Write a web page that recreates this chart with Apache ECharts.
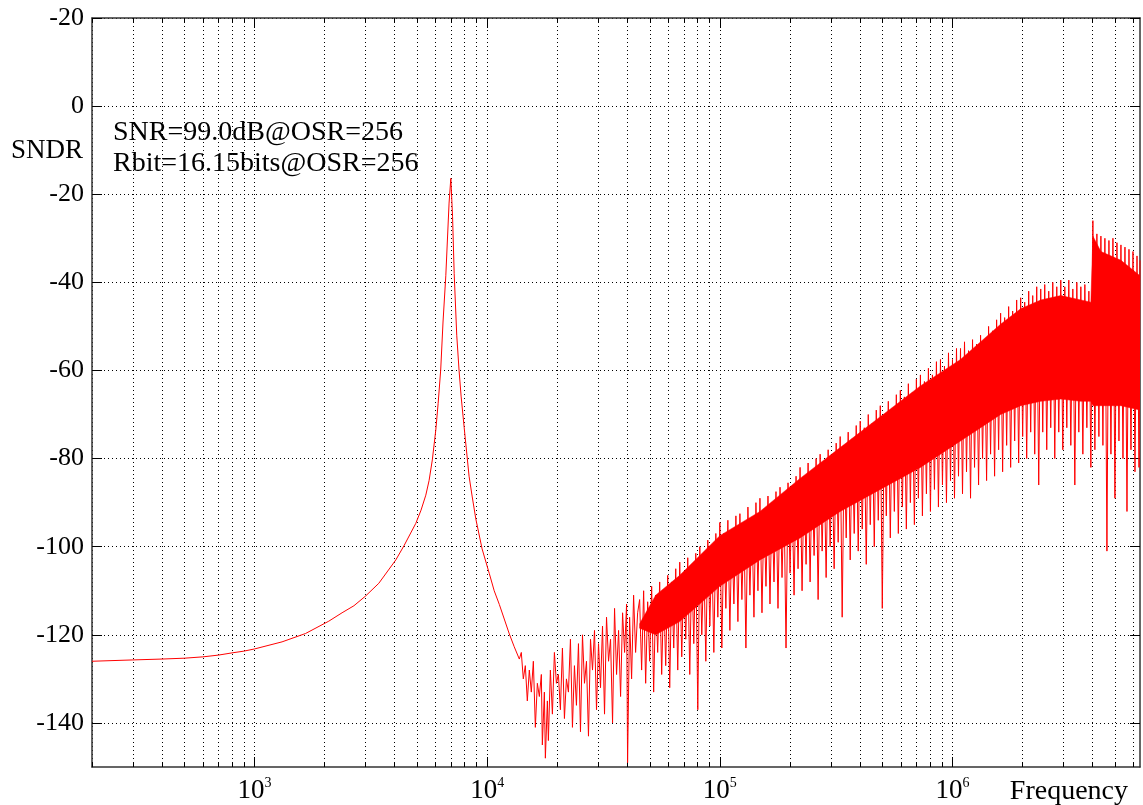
<!DOCTYPE html>
<html><head><meta charset="utf-8">
<script src="https://cdn.jsdelivr.net/npm/echarts@6/dist/echarts.min.js"></script>
<style>html,body{margin:0;padding:0;background:#fff}#c{width:1143px;height:805px}</style>
</head><body><div id="c"></div>
<script>
// ---- axis ranges and ticks ----
const X_MIN_HZ = 200, X_MAX_HZ = 6.4e6;
const Y_MIN = -150, Y_MAX = 20;
const yTickValues = [-140, -120, -100, -80, -60, -40, -20, 0, 20];
const yTickLabels = ['-140', '-120', '-100', '-80', '-60', '-40', '-20', '0', '-20'];
const xMajorExponents = [3, 4, 5, 6];
const xGridHz = [200,300,400,500,600,700,800,900,
  1000,2000,3000,4000,5000,6000,7000,8000,9000,
  10000,20000,30000,40000,50000,60000,70000,80000,90000,
  100000,200000,300000,400000,500000,600000,700000,800000,900000,
  1000000,2000000,3000000,4000000,5000000,6000000];

// ---- data: [log10(frequency in Hz), SNDR dB] ----
const cleanCurve = [
  [2.301,-126.0],[2.477,-125.7],[2.602,-125.5],[2.699,-125.3],[2.778,-125.0],[2.845,-124.6],
  [2.903,-124.1],[2.954,-123.7],[3.0,-123.2],[3.118,-121.6],[3.219,-119.7],[3.319,-116.9],
  [3.376,-115.0],[3.427,-113.4],[3.477,-111.2],[3.534,-108.3],[3.607,-103.0],[3.642,-99.8],
  [3.693,-94.7],[3.7155,-91.7],[3.736,-88.3],[3.750,-85.0],[3.764,-80.3],[3.779,-73.5],
  [3.789,-67.5],[3.800,-59.9],[3.810,-49],[3.822,-38.5],[3.836,-22],[3.8435,-16.4],
  [3.851,-25],[3.858,-38],[3.869,-52],[3.879,-60],[3.888,-66],[3.901,-73],[3.922,-84],
  [3.935,-88.5],[3.951,-93.7],[3.978,-100.5],[4.009,-106.1],[4.030,-110],[4.052,-113.1],
  [4.095,-119.8],[4.116,-122.7],[4.138,-125.5]
];
const noiseSparse = [
  [4.1465,-124],[4.1551,-130],[4.1638,-127],[4.1724,-135],[4.1810,-128],[4.1896,-133],
  [4.1983,-126],[4.2069,-141],[4.2155,-131],[4.2241,-134],[4.2327,-129],[4.2370,-145],
  [4.2457,-133],[4.2500,-148],[4.2586,-135],[4.2629,-144],[4.2715,-128],[4.2802,-138],
  [4.2888,-124],[4.2974,-131],[4.3060,-129],[4.3146,-137],[4.3233,-123],[4.3319,-139],
  [4.3405,-130],[4.3491,-133],[4.3578,-121],[4.3664,-141],[4.3750,-127],[4.3836,-136],
  [4.3922,-122],[4.4009,-142],[4.4095,-120],[4.4181,-131],[4.4267,-126],[4.4353,-143],
  [4.4440,-121],[4.4526,-128],[4.4612,-119],[4.4698,-137],[4.4784,-122],[4.4871,-132],
  [4.4957,-118],[4.5043,-138],[4.5129,-116],[4.5216,-126],[4.5302,-121],[4.5388,-140],
  [4.5474,-114],[4.5560,-129],[4.5647,-119],[4.5733,-134],[4.5819,-115],[4.5905,-124],
  [4.5991,-113],[4.6034,-149],[4.6121,-116],[4.6207,-130],[4.6293,-111],[4.6379,-124],
  [4.6466,-115],[4.6552,-112]
];
const noiseDense = [
  [4.6638,-128],[4.6724,-110],[4.6811,-131],[4.6897,-112.5],[4.6983,-126],[4.7069,-109],
  [4.7155,-133],[4.7242,-111],[4.7328,-124],[4.7414,-108],[4.7500,-129],[4.7586,-110.5],
  [4.7673,-127],[4.7759,-106.5],[4.7845,-132],[4.7931,-108],[4.8018,-123],[4.8104,-105],
  [4.8190,-128],[4.8276,-103.5],[4.8362,-125],[4.8449,-106],[4.8535,-121],[4.8621,-102.5],
  [4.8707,-129],[4.8793,-104],[4.8880,-122],[4.8966,-101.5],[4.9052,-137],[4.9138,-100],
  [4.9224,-120],[4.9311,-103],[4.9397,-126],[4.9483,-98.5],[4.9569,-118],[4.9655,-100.5],
  [4.9742,-124],[4.9828,-97],[4.9914,-116],[5.0000,-94.5],[5.0086,-123],[5.0172,-97],
  [5.0259,-114],[5.0345,-94],[5.0431,-119],[5.0517,-96.5],[5.0604,-113],[5.0690,-93],
  [5.0776,-117],[5.0862,-92.5],[5.0948,-112],[5.1035,-95],[5.1121,-123],[5.1207,-91],
  [5.1293,-111],[5.1380,-93.5],[5.1466,-116],[5.1552,-90],[5.1638,-110],[5.1724,-89],
  [5.1811,-115],[5.1897,-91.5],[5.1983,-109],[5.2069,-88.5],[5.2155,-113],[5.2242,-90],
  [5.2328,-108],[5.2414,-87.5],[5.2500,-114],[5.2587,-86.5],[5.2673,-107],[5.2759,-89],
  [5.2845,-123],[5.2931,-85.5],[5.3018,-106],[5.3104,-87],[5.3190,-111],[5.3276,-84],
  [5.3362,-105],[5.3449,-82],[5.3535,-110],[5.3621,-84.5],[5.3707,-104],[5.3794,-81],
  [5.3880,-108],[5.3966,-83],[5.4052,-102],[5.4138,-80],[5.4225,-112],[5.4311,-79],
  [5.4397,-101],[5.4483,-81],[5.4569,-107],[5.4656,-78],[5.4742,-100],[5.4828,-79.5],
  [5.4914,-105],[5.5001,-76.5],[5.5087,-99],[5.5173,-75],[5.5259,-116],[5.5345,-77],
  [5.5432,-98],[5.5518,-74],[5.5604,-103],[5.5690,-75.5],[5.5776,-97],[5.5863,-72.5],
  [5.5949,-101],[5.6035,-71.5],[5.6121,-96],[5.6208,-73],[5.6294,-104],[5.6380,-70],
  [5.6466,-95],[5.6552,-72],[5.6639,-100],[5.6725,-69],[5.6811,-94],[5.6897,-68],
  [5.6983,-114],[5.7070,-70],[5.7156,-93],[5.7242,-67],[5.7328,-98],[5.7415,-68.5],
  [5.7501,-92],[5.7587,-65.5],[5.7673,-97],[5.7759,-64.5],[5.7846,-91],[5.7932,-66],
  [5.8018,-96],[5.8104,-63],[5.8190,-90],[5.8277,-65],[5.8363,-95],[5.8449,-62],
  [5.8535,-89],[5.8622,-61],[5.8708,-93],[5.8794,-62.5],[5.8880,-88],[5.8966,-59.5],
  [5.9053,-92],[5.9139,-61],[5.9225,-87],[5.9311,-58],[5.9397,-91],[5.9484,-57.5],
  [5.9570,-86],[5.9656,-59],[5.9742,-90],[5.9829,-56],[5.9915,-85],[6.0001,-57.5],
  [6.0087,-89],[6.0173,-55],[6.0260,-84],[6.0346,-55],[6.0432,-88],[6.0518,-53.5],
  [6.0604,-83],[6.0691,-55.5],[6.0777,-89],[6.0863,-53],[6.0949,-82],[6.1036,-54],
  [6.1122,-86],[6.1208,-52],[6.1294,-80],[6.1380,-53],[6.1467,-85],[6.1553,-50],
  [6.1639,-79],[6.1725,-51],[6.1811,-84],[6.1898,-48.5],[6.1984,-78],[6.2070,-47],
  [6.2156,-83],[6.2243,-48],[6.2329,-77],[6.2415,-45.5],[6.2501,-82],[6.2587,-46.5],
  [6.2674,-76],[6.2760,-44],[6.2846,-81],[6.2932,-43.5],[6.3018,-75],[6.3105,-44.5],
  [6.3191,-80],[6.3277,-42],[6.3363,-74],[6.3450,-43],[6.3536,-79],[6.3622,-41],
  [6.3708,-86],[6.3794,-41.5],[6.3881,-74],[6.3967,-40.5],[6.4053,-78],[6.4139,-42],
  [6.4225,-73],[6.4312,-40],[6.4398,-80],[6.4484,-41],[6.4570,-74],[6.4657,-39.5],
  [6.4743,-78],[6.4829,-41],[6.4915,-73],[6.5001,-39.5],[6.5088,-77],[6.5174,-41.5],
  [6.5260,-86],[6.5346,-40],[6.5432,-74],[6.5519,-41],[6.5605,-79],[6.5691,-40.5],
  [6.5777,-73],[6.5864,-42],[6.5950,-82],[6.6036,-26],[6.6122,-78],[6.6208,-29],
  [6.6295,-75],[6.6381,-29.5],[6.6467,-77],[6.6553,-30],[6.6640,-101],[6.6726,-30.5],
  [6.6812,-79],[6.6898,-30],[6.6984,-89],[6.7071,-31],[6.7157,-76],[6.7243,-31.5],
  [6.7329,-80],[6.7415,-32],[6.7502,-92],[6.7588,-32.5],[6.7674,-78],[6.7760,-33],
  [6.7846,-83],[6.7933,-34],[6.8019,-82],[6.8062,-35]
];
// dense core of the noise band: [log10(f), upper dB, lower dB]
const noiseCore = [
  [4.6552,-117.5,-118.5],[4.7242,-111,-120],[4.8276,-106.5,-117],[5.0000,-97.5,-109],
  [5.1724,-92,-103],[5.3449,-84.5,-98],[5.5173,-77.5,-92],[5.6897,-70.5,-87],
  [5.8622,-63.5,-82],[6.0346,-57.5,-76],[6.2070,-49.5,-70],[6.2932,-46,-68],
  [6.3794,-44,-67],[6.4657,-43,-66.5],[6.5519,-44,-67],[6.5950,-44.5,-67],
  [6.6036,-29.5,-68],[6.6381,-33,-68],[6.7243,-35,-68],[6.8062,-38.5,-69]
];

const FONT = '"Liberation Serif", "Times New Roman", serif';
const RED = '#ff0000';
const lg = v => Math.log10(v);
const chart = echarts.init(document.getElementById('c'), null, {renderer: 'canvas'});

const dotted = {color: '#000', width: 1, type: [1, 3]};
const frame = {show: true, onZero: false, lineStyle: {color: '#333', width: 1.5}};
const noLine = {show: false, onZero: false};
const xBase = {type: 'value', min: lg(X_MIN_HZ), max: lg(X_MAX_HZ), gridIndex: 0};
const yBase = {type: 'value', min: Y_MIN, max: Y_MAX, gridIndex: 0};
const minorX = xGridHz.map(lg);
const tickStyle = {color: '#000', width: 1};

chart.setOption({
  animation: false,
  backgroundColor: '#fff',
  grid: {left: 92, right: 3, top: 18, bottom: 38, containLabel: false},
  xAxis: [
    Object.assign({}, xBase, {
      position: 'bottom', axisLine: frame,
      axisTick: {show: true, inside: true, length: 5, customValues: minorX, lineStyle: tickStyle},
      splitLine: {show: true, lineStyle: dotted},
      axisLabel: {
        show: true, customValues: xMajorExponents, margin: 9,
        formatter: v => '{b|10}{s|' + Math.round(v) + '}',
        rich: {
          b: {fontFamily: FONT, fontSize: 27, color: '#000', lineHeight: 30},
          s: {fontFamily: FONT, fontSize: 14, color: '#000', lineHeight: 14, verticalAlign: 'top'}
        }
      }
    }),
    Object.assign({}, xBase, {
      position: 'bottom', axisLine: noLine,
      axisTick: {show: true, inside: true, length: 10, customValues: xMajorExponents, lineStyle: tickStyle},
      splitLine: {show: false}, axisLabel: {show: false}
    }),
    Object.assign({}, xBase, {
      position: 'top', axisLine: frame,
      axisTick: {show: true, inside: true, length: 5, customValues: minorX, lineStyle: tickStyle},
      splitLine: {show: false}, axisLabel: {show: false}
    }),
    Object.assign({}, xBase, {
      position: 'top', axisLine: noLine,
      axisTick: {show: true, inside: true, length: 10, customValues: xMajorExponents, lineStyle: tickStyle},
      splitLine: {show: false}, axisLabel: {show: false}
    })
  ],
  yAxis: [
    Object.assign({}, yBase, {
      position: 'left', axisLine: frame,
      axisTick: {show: true, inside: true, length: 10, customValues: yTickValues, lineStyle: tickStyle},
      splitLine: {show: true, lineStyle: dotted},
      axisLabel: {
        show: true, customValues: yTickValues, margin: 8,
        fontFamily: FONT, fontSize: 26, color: '#000',
        formatter: v => yTickLabels[yTickValues.indexOf(Math.round(v))]
      }
    }),
    Object.assign({}, yBase, {
      position: 'right', axisLine: frame,
      axisTick: {show: true, inside: true, length: 10, customValues: yTickValues, lineStyle: tickStyle},
      splitLine: {show: false}, axisLabel: {show: false}
    })
  ],
  series: [
    {
      type: 'custom', xAxisIndex: 0, yAxisIndex: 0, clip: true, silent: true, z: 2,
      data: noiseCore.map(d => [d[0], d[1], d[2]]),
      encode: {x: 0, y: [1, 2]},
      renderItem: (params, api) => {
        if (params.dataIndex !== 0) return null;
        const up = noiseCore.map(d => api.coord([d[0], d[1]]));
        const lo = noiseCore.slice().reverse().map(d => api.coord([d[0], d[2]]));
        return {type: 'polygon', shape: {points: up.concat(lo)},
                style: {fill: RED, stroke: RED, lineWidth: 0.5}};
      }
    },
    {
      type: 'line', xAxisIndex: 0, yAxisIndex: 0, z: 3,
      data: cleanCurve.concat(noiseSparse, noiseDense),
      showSymbol: false, symbol: 'none', sampling: null, clip: true, silent: true,
      lineStyle: {color: RED, width: 1}
    }
  ],
  graphic: [
    {type: 'text', left: 11, top: 137, silent: true,
     style: {text: 'SNDR', font: '27px ' + FONT, fill: '#000'}},
    {type: 'text', left: 113, top: 119, silent: true,
     style: {text: 'SNR=99.0dB@OSR=256', font: '28px ' + FONT, fill: '#000'}},
    {type: 'text', left: 113, top: 150, silent: true,
     style: {text: 'Rbit=16.15bits@OSR=256', font: '28px ' + FONT, fill: '#000'}},
    {type: 'text', right: 15, top: 778, silent: true,
     style: {text: 'Frequency', font: '28px ' + FONT, fill: '#000'}}
  ]
});
</script>
</body></html>
